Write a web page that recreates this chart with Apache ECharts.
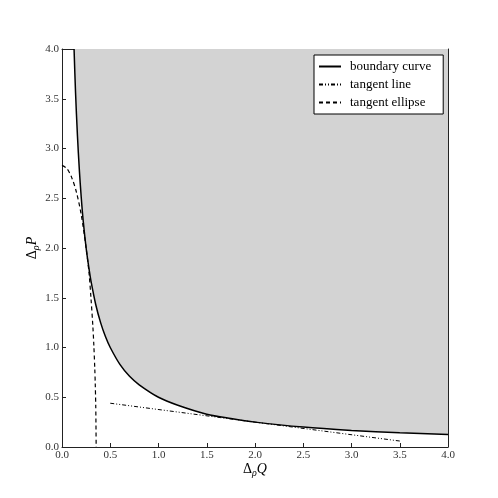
<!DOCTYPE html>
<html>
<head>
<meta charset="utf-8">
<script src="https://cdn.jsdelivr.net/npm/echarts@6/dist/echarts.min.js"></script>
<style>
html, body { margin: 0; padding: 0; background: #fff; }
#chart { width: 498px; height: 498px; }
</style>
</head>
<body>
<div id="chart"></div>
<script>
// boundary curve
var boundaryQ = [0.125, 0.14, 0.16, 0.18, 0.2, 0.22, 0.25, 0.28, 0.3, 0.35, 0.4, 0.45, 0.5, 0.6, 0.7, 0.8, 1.0, 1.2, 1.5, 1.75, 2.0, 2.5, 3.0, 3.5, 4.0];
var boundaryP = [4.0, 3.57, 3.13, 2.78, 2.5, 2.27, 2.0, 1.79, 1.67, 1.43, 1.25, 1.11, 1.0, 0.83, 0.71, 0.625, 0.5, 0.42, 0.33, 0.286, 0.25, 0.2, 0.167, 0.143, 0.125];

// tangent line (dash-dot-dot)
var lineQ = [0.5, 3.5];
var lineP = [0.44, 0.06];

// tangent ellipse (dashed)
var ellipseQ = [0.0, 0.05, 0.1, 0.15, 0.2, 0.25, 0.28, 0.3, 0.32, 0.33, 0.34, 0.345, 0.35, 0.354];
var ellipseP = [2.83, 2.80, 2.71, 2.56, 2.33, 2.0, 1.75, 1.50, 1.21, 1.02, 0.78, 0.62, 0.40, 0.0];

var ticks = [0, 0.5, 1.0, 1.5, 2.0, 2.5, 3.0, 3.5, 4.0];

function pairs(xs, ys) {
    return xs.map(function (x, i) { return [x, ys[i]]; });
}

var serif = 'Liberation Serif';
var chart = echarts.init(document.getElementById('chart'));

function axis(pos, show) {
    return {
        type: 'value',
        position: pos,
        min: ticks[0],
        max: ticks[ticks.length - 1],
        interval: 0.5,
        axisLine: { show: true, onZero: false, lineStyle: { color: '#222', width: 1 } },
        axisTick: { show: true, inside: true, length: 4, lineStyle: { color: '#222' } },
        axisLabel: {
            show: show,
            color: '#333',
            fontFamily: serif,
            fontSize: 11,
            margin: 3,
            formatter: function (v) { return v.toFixed(1); }
        },
        splitLine: { show: false }
    };
}

var nameStyle = {
    rich: {
        a: { fontFamily: serif, fontSize: 14, color: '#000' },
        i: { fontFamily: serif, fontSize: 14, fontStyle: 'italic', color: '#000' },
        s: { fontFamily: serif, fontSize: 10, fontStyle: 'italic', color: '#000', verticalAlign: 'bottom', padding: [7, 0, 0, 0] }
    }
};

var xBottom = axis('bottom', true);
xBottom.name = '{a|Δ}{s|ρ}{i|Q}';
xBottom.nameLocation = 'middle';
xBottom.nameGap = 14;
xBottom.nameMoveOverlap = false;
xBottom.nameTextStyle = nameStyle;
var yLeft = axis('left', true);
yLeft.name = '{a|Δ}{s|ρ}{i|P}';
yLeft.nameLocation = 'middle';
yLeft.nameGap = 21;
yLeft.nameMoveOverlap = false;
yLeft.nameTextStyle = nameStyle;

var option = {
    animation: false,
    backgroundColor: '#fff',
    color: ['#000', '#000', '#000'],
    grid: { left: 62, right: 50, top: 49, bottom: 51, containLabel: false },
    xAxis: [xBottom, axis('top', false)],
    yAxis: [yLeft, axis('right', false)],
    legend: {
        orient: 'vertical',
        left: 314,
        top: 55,
        padding: [5, 12, 5, 4],
        itemGap: 5,
        itemWidth: 22,
        itemHeight: 14,
        backgroundColor: '#fff',
        borderColor: '#000',
        borderWidth: 1,
        borderRadius: 0,
        itemStyle: { opacity: 0 },
        textStyle: { fontFamily: serif, fontSize: 13, color: '#000', padding: [0, 0, 0, 4] },
        data: ['boundary curve', 'tangent line', 'tangent ellipse']
    },
    series: [
        {
            name: 'boundary curve',
            type: 'line',
            data: pairs(boundaryQ, boundaryP),
            smooth: 0.3,
            symbol: 'none',
            itemStyle: { color: '#000' },
            lineStyle: { color: '#000', width: 1.5 },
            areaStyle: { origin: 'end', color: '#d3d3d3', opacity: 1 },
            z: 3
        },
        {
            name: 'tangent line',
            type: 'line',
            data: pairs(lineQ, lineP),
            symbol: 'none',
            itemStyle: { color: '#000' },
            lineStyle: { color: '#000', width: 1, type: [4, 2, 1, 2, 1, 2] },
            z: 4
        },
        {
            name: 'tangent ellipse',
            type: 'line',
            data: pairs(ellipseQ, ellipseP),
            smooth: 0.3,
            symbol: 'none',
            itemStyle: { color: '#000' },
            lineStyle: { color: '#000', width: 1.2, type: [4, 3] },
            z: 4
        }
    ]
};
chart.setOption(option);
</script>
</body>
</html>
